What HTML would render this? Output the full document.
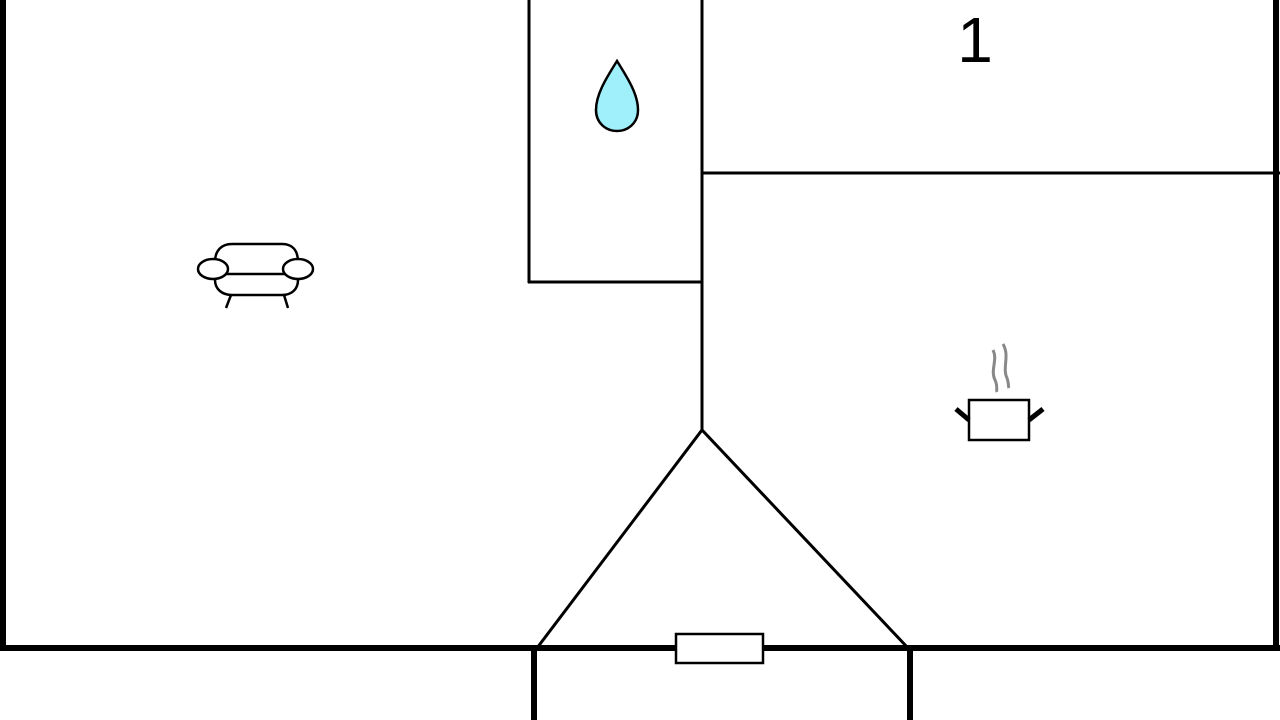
<!DOCTYPE html>
<html><head><style>body{margin:0;background:#fff}svg{display:block}</style></head><body>
<svg width="1280" height="720" viewBox="0 0 1280 720" xmlns="http://www.w3.org/2000/svg">
<rect width="1280" height="720" fill="#fff"/>
<g stroke="#000" fill="none">
<line x1="3" y1="0" x2="3" y2="651" stroke-width="6"/>
<line x1="1276" y1="0" x2="1276" y2="651" stroke-width="6"/>
<line x1="0" y1="648" x2="1280" y2="648" stroke-width="6"/>
<line x1="534" y1="645" x2="534" y2="720" stroke-width="6"/>
<line x1="910" y1="645" x2="910" y2="720" stroke-width="6"/>
<g stroke-width="3">
<line x1="529" y1="0" x2="529" y2="283"/>
<line x1="528" y1="282" x2="702" y2="282"/>
<line x1="702" y1="0" x2="702" y2="430"/>
<line x1="702" y1="173" x2="1280" y2="173"/>
<polyline points="537,648 702,430 908,648"/>
</g>
<rect x="676" y="634" width="87" height="29" fill="#fff" stroke-width="2.5"/>
<path d="M617 61 C605 80 596 95 596 110 C596 123 606 131 617 131 C628 131 638 123 638 110 C638 95 629 80 617 61 Z" fill="#9ff0fb" stroke-width="2.5"/>
<g stroke-width="2.5" fill="#fff">
<path d="M215 262 C215 250 222 244 232 244 L282 244 C292 244 298 250 298 262 L298 280 C298 289 292 295 282 295 L232 295 C222 295 215 289 215 280 Z"/>
<line x1="215" y1="274" x2="298" y2="274"/>
<ellipse cx="213" cy="269" rx="15" ry="10"/>
<ellipse cx="298" cy="269" rx="15" ry="10"/>
<line x1="231" y1="295" x2="226" y2="308"/>
<line x1="284" y1="295" x2="288" y2="308"/>
</g>
<g stroke-width="2.5">
<rect x="969" y="400" width="60" height="40" fill="#fff"/>
<line x1="956" y1="409" x2="969" y2="420" stroke-width="5"/>
<line x1="1043" y1="409" x2="1029" y2="420" stroke-width="5"/>
</g>
<g stroke="#888" stroke-width="3">
<path d="M993 350 C998 360 990 370 995 380 C998 386 996 390 997 392"/>
<path d="M1003 344 C1010 356 1002 368 1007 378 C1009 384 1008 386 1009 388"/>
</g>
</g>
<text x="975" y="62" font-family="Liberation Sans, sans-serif" font-size="64" text-anchor="middle" fill="#000">1</text>
</svg>
</body></html>
